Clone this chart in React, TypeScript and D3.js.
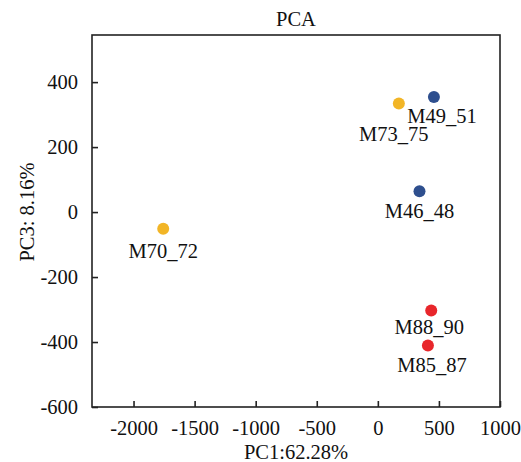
import React, { useRef, useEffect } from 'react';
import * as d3 from 'd3';

const samples = ['M49_51', 'M73_75', 'M46_48', 'M70_72', 'M88_90', 'M85_87'];
const pc1 = [459, 172, 341, -1757, 437, 410];
const pc3 = [354, 334, 64, -51, -303, -411];
const groups = ['B', 'Y', 'B', 'Y', 'R', 'R'];
const xTicks = [-2000, -1500, -1000, -500, 0, 500, 1000];
const yTicks = [-600, -400, -200, 0, 200, 400];

const groupColor: Record<string, string> = { B: '#2e4f8e', Y: '#f2b526', R: '#e8262b' };
// label nudges in pixels (dx, dy from the point)
const labelNudge: [number, number][] = [[8, 26], [-5, 37], [0, 27], [0, 29], [-2, 23], [4, 26]];

const App = () => {
  const canvas = useRef<SVGSVGElement>(null);

  const drawChart = () => {
    const width = 521;
    const height = 462;
    const margin = { top: 35, left: 92, bottom: 55, right: 21 };
    const iwidth = width - margin.left - margin.right;
    const iheight = height - margin.top - margin.bottom;
    const font = '"Liberation Serif", "Times New Roman", serif';
    const fs = 20.5;

    const svg = d3.select(canvas.current);
    svg.selectAll('*').remove();
    svg.append('rect').attr('width', width).attr('height', height).attr('fill', '#fff');

    const g = svg.append('g').attr('transform', `translate(${margin.left},${margin.top})`);

    const x = d3.scaleLinear().domain([-2340, 1000]).range([0, iwidth]);
    const y = d3.scaleLinear().domain([-600, 545]).range([iheight, 0]);

    g.append('rect')
      .attr('width', iwidth)
      .attr('height', iheight)
      .attr('fill', 'none')
      .attr('stroke', '#222')
      .attr('stroke-width', 1.6);

    const fmt = (d: d3.NumberValue) => String(d);
    const xAxis = g.append('g')
      .attr('transform', `translate(0,${iheight})`)
      .call(d3.axisBottom(x).tickValues(xTicks).tickFormat(fmt).tickSizeInner(-6).tickSizeOuter(0).tickPadding(13));
    const yAxis = g.append('g')
      .call(d3.axisLeft(y).tickValues(yTicks).tickFormat(fmt).tickSizeInner(-6).tickSizeOuter(0).tickPadding(14));

    [xAxis, yAxis].forEach((a) => {
      a.select('.domain').remove();
      a.selectAll('line').attr('stroke', '#222').attr('stroke-width', 1.6);
      a.selectAll('text').attr('font-family', font).attr('font-size', fs).attr('fill', '#111');
    });
    xAxis.selectAll('text').attr('dy', '0.71em');

    const pts = samples.map((s, i) => ({ s, x: pc1[i], y: pc3[i], g: groups[i], n: labelNudge[i] }));

    g.selectAll('circle.pt')
      .data(pts)
      .enter()
      .append('circle')
      .attr('class', 'pt')
      .attr('cx', (d) => x(d.x))
      .attr('cy', (d) => y(d.y))
      .attr('r', 6)
      .attr('fill', (d) => groupColor[d.g]);

    g.selectAll('text.lbl')
      .data(pts)
      .enter()
      .append('text')
      .attr('class', 'lbl')
      .attr('x', (d) => x(d.x) + d.n[0])
      .attr('y', (d) => y(d.y) + d.n[1])
      .attr('text-anchor', 'middle')
      .attr('font-family', font)
      .attr('font-size', fs)
      .attr('fill', '#111')
      .text((d) => d.s);

    svg.append('text')
      .attr('x', margin.left + iwidth / 2)
      .attr('y', 26)
      .attr('text-anchor', 'middle')
      .attr('font-family', font)
      .attr('font-size', fs)
      .attr('fill', '#111')
      .text('PCA');

    svg.append('text')
      .attr('x', margin.left + iwidth / 2)
      .attr('y', 459)
      .attr('text-anchor', 'middle')
      .attr('font-family', font)
      .attr('font-size', fs)
      .attr('fill', '#111')
      .text('PC1:62.28%');

    svg.append('text')
      .attr('transform', `translate(34,${margin.top + y(0)}) rotate(-90)`)
      .attr('text-anchor', 'middle')
      .attr('font-family', font)
      .attr('font-size', fs)
      .attr('fill', '#111')
      .text('PC3: 8.16%');
  };

  useEffect(() => {
    drawChart();
  });

  return (
    <svg
      ref={canvas}
      width={521}
      height={462}
      style={{ position: 'absolute', left: 0, top: 0, display: 'block' }}
    />
  );
};

export default App;
